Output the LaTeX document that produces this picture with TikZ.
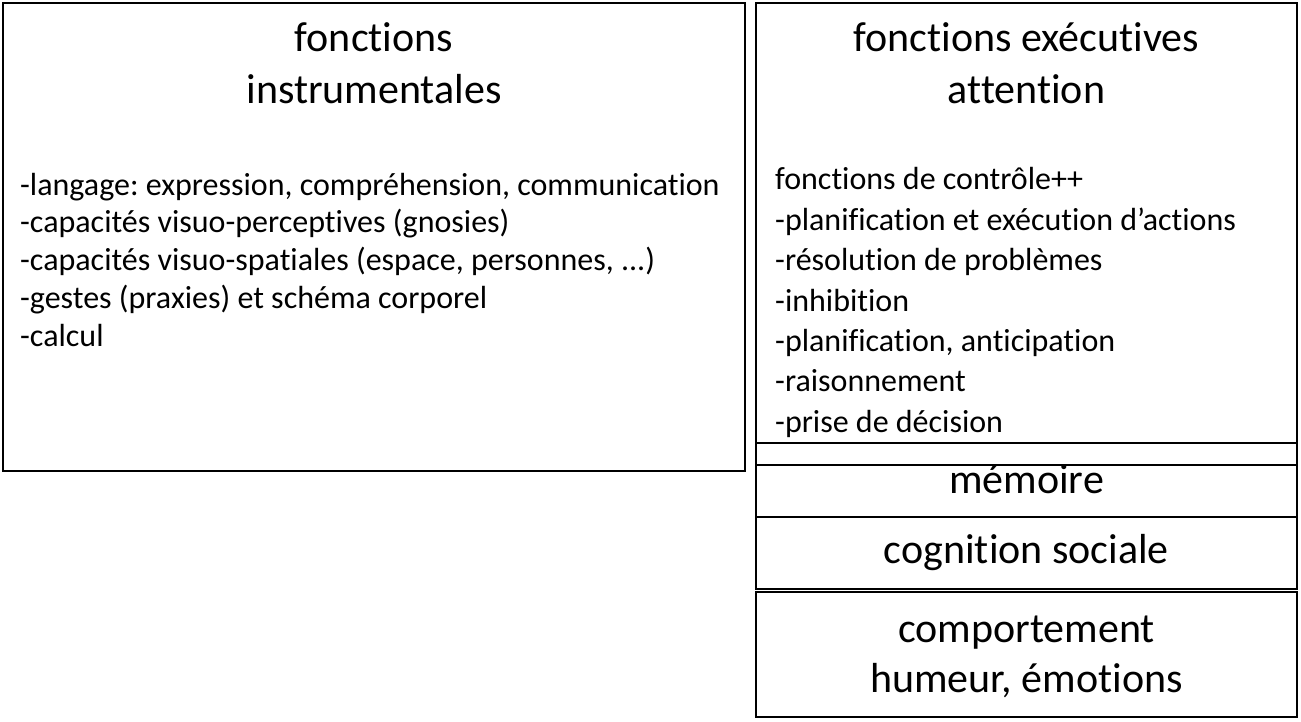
\documentclass[tikz,border=0pt]{standalone}
\usepackage{fontspec}
\setmainfont[Ligatures=NoCommon]{Carlito}
\usetikzlibrary{positioning}
\frenchspacing

\begin{document}
\begin{tikzpicture}[x=1pt,y=-1pt,
  panel/.style={draw,line width=1.6pt,inner sep=0pt,outer sep=0pt},
  title/.style={anchor=base,inner sep=0pt,font=\fontsize{42}{51}\selectfont},
  item/.style={anchor=base west,inner sep=0pt,font=\fontsize{32}{40}\selectfont}]

    \useasboundingbox (0,0) rectangle (1301,721);

    % boxes
    \node[panel,minimum width=742pt,minimum height=468pt] (instr) at (374,237) {};
    \node[panel,minimum width=541pt,minimum height=440pt] (exec) at (1026.5,223) {};
    \node[panel,minimum width=541pt,minimum height=22pt,below=0pt of exec] (strip) {};
    \node[panel,minimum width=541pt,minimum height=52pt,below=0pt of strip] (memo) {};
    \node[panel,minimum width=541pt,minimum height=72pt,below=0pt of memo] (social) {};
    \node[panel,minimum width=541pt,minimum height=125pt,below=3pt of social] (behav) {};

    % titles
    \node[title] (instrT1) at (374,51.7) {fonctions};
    \node[title] (instrT2) at (374,103.5) {instrumentales};
    \node[title] (execT1) at (1026.5,51.7) {fonctions exécutives};
    \node[title] (execT2) at (1026.5,103.5) {attention};
    \node[title] (memoT) at (1026.5,493) {mémoire};
    \node[title] (socialT) at (1026.5,563) {cognition sociale};
    \node[title] (behavT1) at (1026.5,642) {comportement};
    \node[title] (behavT2) at (1026.5,692) {humeur, émotions};

    % lists
    \foreach \txt [count=\i] in {{-langage: expression, compréhension, communication},
        {-capacités visuo-perceptives (gnosies)},
        {-capacités visuo-spatiales (espace, personnes, .{}.{}.)},
        {-gestes (praxies) et schéma corporel},
        {-calcul}}
      \node[item] (instrL\i) at (20,157.1+37.9*\i) {\txt};

    \foreach \txt [count=\i] in {{fonctions de contrôle++},
        {-planification et exécution d’actions},
        {-résolution de problèmes},
        {-inhibition},
        {-planification, anticipation},
        {-raisonnement},
        {-prise de décision}}
      \node[item] (execL\i) at (775,149.5+40.4*\i) {\txt};
\end{tikzpicture}
\end{document}
